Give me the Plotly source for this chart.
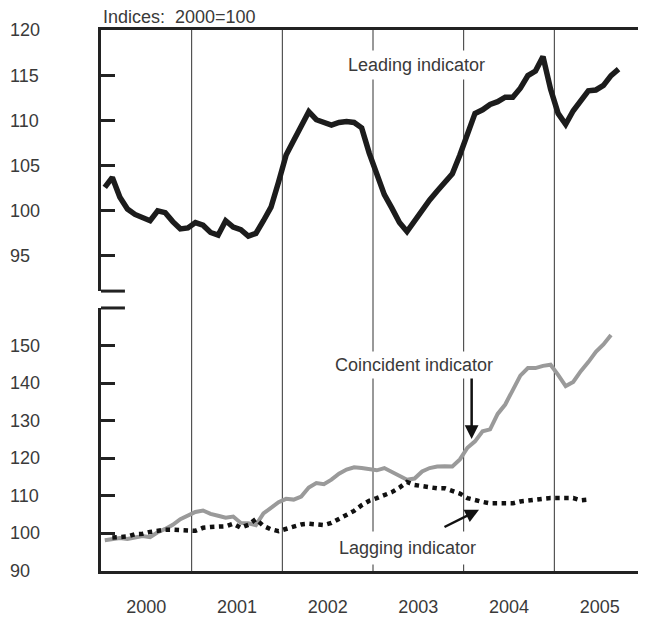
import numpy as np
import plotly.graph_objects as go

# Monthly index values, 2000=100 (Jan 2000 onward)
leading = [102.6, 103.7, 101.5, 100.2, 99.6, 99.3, 98.9, 100.0, 99.8, 98.8,
           98.0, 98.1, 98.7, 98.4, 97.6, 97.3, 98.9, 98.2, 97.9, 97.2,
           97.5, 98.9, 100.4, 103.2, 106.2, 107.8, 109.5, 111.0, 110.1, 109.8,
           109.5, 109.8, 109.9, 109.8, 109.2, 106.4, 104.2, 101.8, 100.3, 98.7,
           97.7, 98.9, 99.9, 101.2, 102.2, 103.2, 104.1, 106.2, 108.4, 110.8,
           111.2, 111.8, 112.1, 112.6, 112.6, 113.6, 115.0, 115.5, 117.1, 113.5,
           110.8, 109.6, 111.1, 112.3, 113.3, 113.4, 113.9, 115.0, 115.7]

coincident = [98.2, 98.4, 98.8, 98.5, 98.9, 99.3, 99.0, 100.3, 101.2, 102.3,
              103.8, 104.9, 105.7, 106.1, 105.2, 104.7, 104.2, 104.5, 102.8, 102.7,
              102.2, 105.3, 106.9, 108.3, 109.2, 109.0, 109.8, 112.2, 113.4, 113.1,
              114.3, 115.9, 117.0, 117.6, 117.4, 117.1, 116.8, 117.4, 116.3, 115.4,
              114.3, 114.6, 116.5, 117.4, 117.8, 117.9, 117.8, 119.7, 122.8, 124.5,
              127.2, 127.7, 131.8, 134.3, 138.4, 142.0, 144.0, 144.0, 144.6, 144.9,
              142.2, 139.2, 140.3, 143.2, 145.6, 148.3, 150.3, 152.8]

# lagging series starts in Feb 2000
lagging = [98.9, 99.0, 99.2, 99.8, 99.9, 100.4, 100.8, 101.0, 101.0, 101.0,
           100.8, 100.7, 101.5, 101.7, 101.8, 101.9, 102.6, 101.5, 102.3, 103.8,
           102.0, 101.1, 100.6, 101.2, 101.9, 102.4, 102.6, 102.4, 102.2, 102.8,
           103.8, 104.7, 106.0, 107.5, 108.7, 109.4, 110.1, 111.0, 112.2, 113.7,
           112.9, 112.5, 112.2, 112.0, 112.0, 111.4, 110.6, 109.4, 108.8, 108.4,
           108.0, 107.9, 107.9, 108.0, 108.5, 108.8, 109.0, 109.2, 109.4, 109.4,
           109.4, 109.4, 108.8, 109.0]

years = [2000, 2001, 2002, 2003, 2004, 2005]
top_ticks = [95, 100, 105, 110, 115, 120]
bottom_ticks = [90, 100, 110, 120, 130, 140, 150]

INK = "#3a3a3a"
FONT = "Liberation Sans, Arial, sans-serif"


def month_x(start, n):
    # mid-month positions in decimal years
    return 2000 + (np.arange(start, start + n) + 0.5) / 12


fig = go.Figure()
fig.add_scatter(x=month_x(0, len(leading)), y=leading, mode="lines",
                line=dict(color="#1c1c1c", width=5.5), xaxis="x2", yaxis="y2")
fig.add_scatter(x=month_x(0, len(coincident)), y=coincident, mode="lines",
                line=dict(color="#9a9a9a", width=4))
fig.add_scatter(x=month_x(1, len(lagging)), y=lagging, mode="lines",
                line=dict(color="#111111", width=4.5, dash="dot"))

axis_common = dict(showgrid=False, zeroline=False, showline=True,
                   linecolor="#222222", linewidth=3)
# page body adds an 8px margin, so the figure is sized to fit inside it
fig.update_layout(
    width=638, height=610, showlegend=False,
    paper_bgcolor="white", plot_bgcolor="white",
    margin=dict(l=93, r=1, t=22, b=43),
    font=dict(family=FONT, size=18, color=INK),
    xaxis=dict(axis_common, range=[2000, 2006], anchor="y",
               tickvals=[y + 0.5 for y in years], ticktext=[str(y) for y in years],
               ticks="", ticklabelstandoff=17, tickfont=dict(size=18, color=INK)),
    xaxis2=dict(axis_common, range=[2000, 2006], anchor="y2", side="top",
                linewidth=2.5, showticklabels=False, ticks=""),
    yaxis=dict(axis_common, domain=[0, 0.4862], range=[90, 160], anchor="x",
               tickvals=bottom_ticks, ticks="inside", ticklen=14, tickwidth=3,
               tickcolor="#222222", showticklabels=False),
    yaxis2=dict(axis_common, domain=[0.5174, 1], range=[91.1, 120.05], anchor="x2",
                tickvals=top_ticks, ticks="inside", ticklen=14, tickwidth=3,
                tickcolor="#222222", showticklabels=False),
)

# year dividers running through both panels
for y in years[1:]:
    fig.add_shape(type="line", xref="x", yref="paper", x0=y, x1=y, y0=0, y1=1,
                  line=dict(color="#333333", width=1), layer="below")
# right frame edge
fig.add_shape(type="line", xref="paper", yref="paper", x0=1, x1=1, y0=0, y1=1,
              line=dict(color="#444444", width=1))
# axis-break stubs
fig.add_shape(type="line", xref="paper", yref="y2 domain", x0=0, x1=0.044, y0=0, y1=0,
              line=dict(color="#222222", width=3))
fig.add_shape(type="line", xref="paper", yref="y domain", x0=0, x1=0.044, y0=1, y1=1,
              line=dict(color="#222222", width=3))

# left-aligned tick labels
for v in top_ticks:
    fig.add_annotation(text=str(v), x=-0.171, xref="paper", xanchor="left",
                       y=v, yref="y2", showarrow=False, font=dict(size=18, color=INK))
for v in bottom_ticks:
    fig.add_annotation(text=str(v), x=-0.171, xref="paper", xanchor="left",
                       y=v, yref="y", showarrow=False, font=dict(size=18, color=INK))

fig.add_annotation(text="Indices:  2000=100", x=0, xref="paper", xanchor="left",
                   y=1.024, yref="paper", yanchor="middle", showarrow=False,
                   font=dict(size=18, color=INK))

fig.add_annotation(text="Leading indicator", x=2003.485, y=116.2, xref="x2", yref="y2",
                   showarrow=False, bgcolor="white", borderpad=4,
                   font=dict(size=18, color=INK))
fig.add_annotation(text="Coincident indicator", x=2003.45, y=144.9, xref="x", yref="y",
                   showarrow=False, bgcolor="white", borderpad=3,
                   font=dict(size=18, color=INK))
fig.add_annotation(text="Lagging indicator", x=2003.375, y=96.1, xref="x", yref="y",
                   showarrow=False, bgcolor="white", borderpad=6,
                   font=dict(size=18, color=INK))

# pointer arrows
fig.add_annotation(text="", x=2004.088, y=125.1, xref="x", yref="y",
                   showarrow=True, ax=0, ay=-62, arrowhead=2, arrowsize=1.1,
                   arrowwidth=2.5, arrowcolor="#111111", standoff=0)
fig.add_annotation(text="", x=2004.169, y=106.3, xref="x", yref="y",
                   showarrow=True, ax=-36, ay=18, arrowhead=2, arrowsize=1.1,
                   arrowwidth=2.5, arrowcolor="#111111", standoff=0)

fig.write_html("out.html")
